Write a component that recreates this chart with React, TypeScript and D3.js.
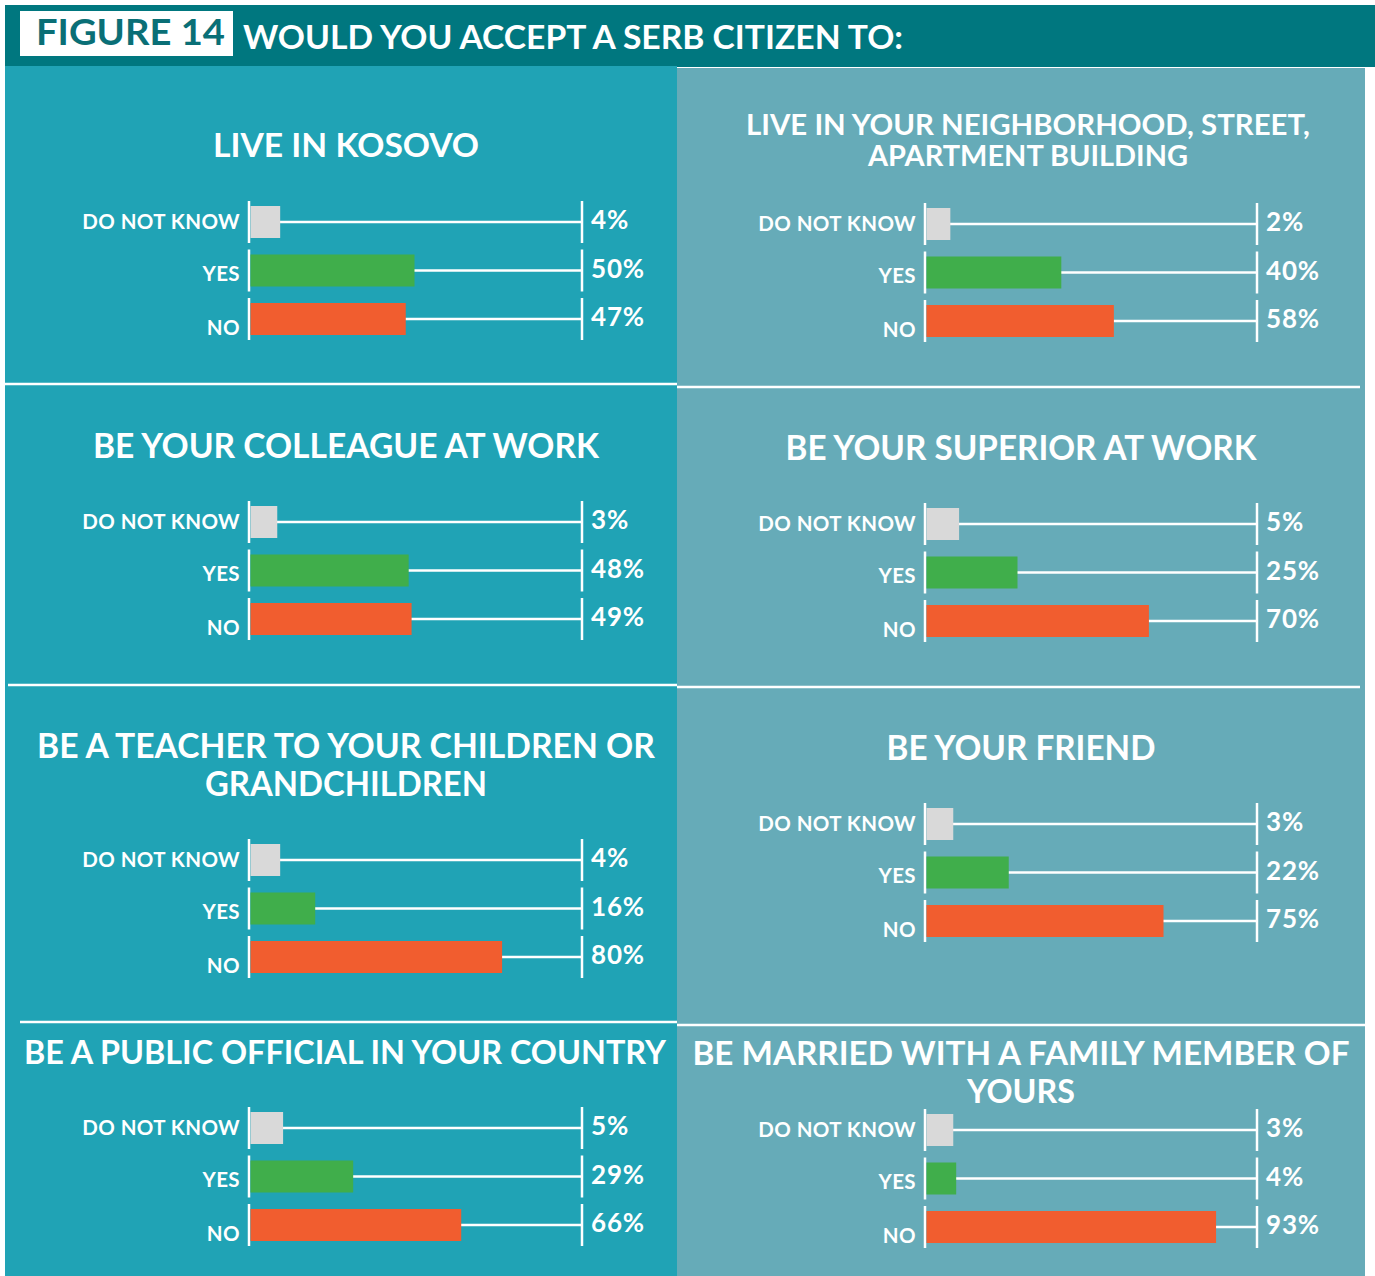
import React from "react";
import * as d3 from "d3";

// ---------- DATA ----------
const categories = ["DO NOT KNOW", "YES", "NO"];
const panelTitles: string[][] = [
  ["LIVE IN KOSOVO"],
  ["LIVE IN YOUR NEIGHBORHOOD, STREET,", "APARTMENT BUILDING"],
  ["BE YOUR COLLEAGUE AT WORK"],
  ["BE YOUR SUPERIOR AT WORK"],
  ["BE A TEACHER TO YOUR CHILDREN OR", "GRANDCHILDREN"],
  ["BE YOUR FRIEND"],
  ["BE A PUBLIC OFFICIAL IN YOUR COUNTRY"],
  ["BE MARRIED WITH A FAMILY MEMBER OF", "YOURS"],
];
const doNotKnow = [4, 2, 3, 5, 4, 3, 5, 3];
const yes = [50, 40, 48, 25, 16, 22, 29, 4];
const no = [47, 58, 49, 70, 80, 75, 66, 93];

const figureLabel = "FIGURE 14";
const figureTitle = "WOULD YOU ACCEPT A SERB CITIZEN TO:";

// ---------- LAYOUT / STYLE ----------
const W = 1375;
const H = 1276;
const FONT = "Lato, 'Open Sans', sans-serif";
const colors = {
  header: "#00777f",
  left: "#20a3b5",
  right: "#66abb8",
  dnk: "#d9d9d9",
  yes: "#40ae4b",
  no: "#f15d2f",
  figText: "#0a6f76",
};
const barColors = [colors.dnk, colors.yes, colors.no];

const columns = [
  { axisX: 249, endX: 582 },
  { axisX: 925, endX: 1257 },
];

// per panel: first row center y, title baselines, title widths, font size, title center
const layout = [
  { col: 0, rowY: 222, titleY: [157], titleW: [266], fs: 33, cx: 346 },
  { col: 1, rowY: 224, titleY: [135, 166], titleW: [564, 320], fs: 28, cx: 1028 },
  { col: 0, rowY: 522, titleY: [458], titleW: [506], fs: 34, cx: 346 },
  { col: 1, rowY: 524, titleY: [460], titleW: [471], fs: 34, cx: 1021 },
  { col: 0, rowY: 860, titleY: [758, 796], titleW: [618, 282], fs: 34, cx: 346 },
  { col: 1, rowY: 824, titleY: [760], titleW: [269], fs: 34, cx: 1021 },
  { col: 0, rowY: 1128, titleY: [1064], titleW: [642], fs: 33, cx: 345 },
  { col: 1, rowY: 1130, titleY: [1065, 1103], titleW: [657, 108], fs: 33, cx: 1021 },
];
const rowStep = 48.5;
const barH = 32;
const segHalf = 21;
const labelOffsets = [7, 10, 16];

const widthScale = d3.scaleLinear().domain([0, 100]).range([18, 310]);

const separators = [
  { x1: 5, x2: 677, y: 384 },
  { x1: 8, x2: 677, y: 685 },
  { x1: 20, x2: 677, y: 1022 },
  { x1: 677, x2: 1360, y: 387 },
  { x1: 677, x2: 1360, y: 687 },
  { x1: 677, x2: 1365, y: 1025 },
];

function Panel({ i }: { i: number }) {
  const L = layout[i];
  const c = columns[L.col];
  const vals = [doNotKnow[i], yes[i], no[i]];
  const yScale = d3
    .scalePoint<string>()
    .domain(categories)
    .range([L.rowY, L.rowY + rowStep * 2]);
  return (
    <g>
      {panelTitles[i].map((t, k) => (
        <text
          key={k}
          x={L.cx}
          y={L.titleY[k]}
          textAnchor="middle"
          fontFamily={FONT}
          fontWeight={700}
          fontSize={L.fs}
          fill="#fff"
          textLength={L.titleW[k]}
          lengthAdjust="spacingAndGlyphs"
        >
          {t}
        </text>
      ))}
      {categories.map((cat, k) => {
        const y = yScale(cat)!;
        const w = widthScale(vals[k]);
        return (
          <g key={cat}>
            <line x1={c.axisX} x2={c.axisX} y1={y - segHalf} y2={y + segHalf} stroke="#fff" strokeWidth={2.5} />
            <line x1={c.endX} x2={c.endX} y1={y - segHalf} y2={y + segHalf} stroke="#fff" strokeWidth={2.5} />
            <line x1={c.axisX + 1 + w} x2={c.endX} y1={y} y2={y} stroke="#fff" strokeWidth={2.5} />
            <rect x={c.axisX + 1.5} y={y - barH / 2} width={w} height={barH} fill={barColors[k]} />
            <text
              x={c.axisX - 9}
              y={y + labelOffsets[k]}
              textAnchor="end"
              fontFamily={FONT}
              fontWeight={700}
              fontSize={20.5}
              letterSpacing={0.4}
              fill="#fff"
            >
              {cat}
            </text>
            <text
              x={c.endX + 9}
              y={y + 7}
              fontFamily={FONT}
              fontWeight={700}
              fontSize={26}
              letterSpacing={0.8}
              fill="#fff"
            >
              {`${vals[k]}%`}
            </text>
          </g>
        );
      })}
    </g>
  );
}

export default function App() {
  return (
    <div style={{ position: "absolute", left: 0, top: 0 }}>
      <svg width={W} height={H} style={{ display: "block", background: "#fff" }}>
        <rect x={5} y={5} width={W - 5} height={62} fill={colors.header} />
        <rect x={20} y={11} width={213} height={45} fill="#fff" />
        <text x={36} y={45} fontFamily={FONT} fontWeight={700} fontSize={37} fill={colors.figText} textLength={189} lengthAdjust="spacingAndGlyphs">
          {figureLabel}
        </text>
        <text x={243} y={49} fontFamily={FONT} fontWeight={700} fontSize={32} fill="#fff" textLength={660} lengthAdjust="spacingAndGlyphs">
          {figureTitle}
        </text>
        <rect x={5} y={66} width={672} height={H - 66} fill={colors.left} />
        <rect x={677} y={68} width={688} height={H - 68} fill={colors.right} />
        {separators.map((s, k) => (
          <line key={k} x1={s.x1} x2={s.x2} y1={s.y} y2={s.y} stroke="#fff" strokeWidth={2.5} />
        ))}
        {layout.map((_, i) => (
          <Panel key={i} i={i} />
        ))}
      </svg>
    </div>
  );
}
